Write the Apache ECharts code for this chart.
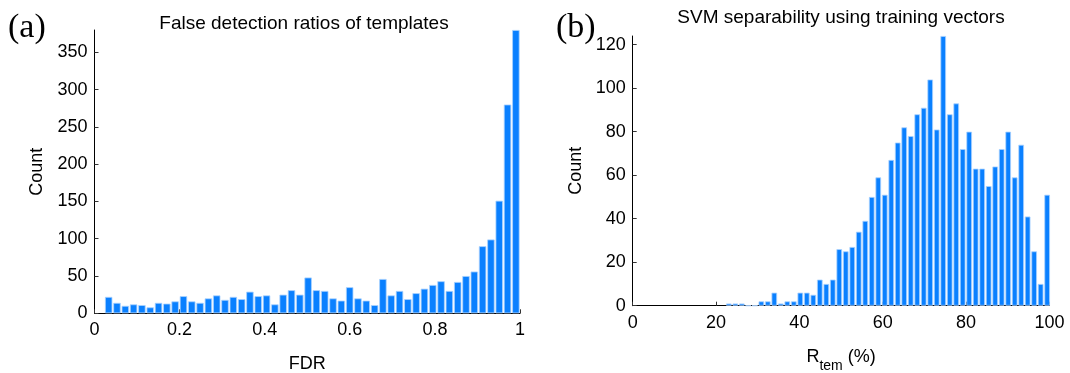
<!DOCTYPE html>
<html>
<head>
<meta charset="utf-8">
<script src="https://cdn.jsdelivr.net/npm/echarts@6/dist/echarts.min.js"></script>
<style>
html,body{margin:0;padding:0;background:#fff;}
#c{width:1070px;height:373px;}
</style>
</head>
<body>
<div id="c"></div>
<script>
// Panel (a): FDR histogram
const fdrBinCenters = [0.0333,0.0528,0.0724,0.0919,0.1114,0.1310,0.1505,0.1700,0.1895,0.2091,
  0.2286,0.2481,0.2677,0.2872,0.3067,0.3263,0.3458,0.3653,0.3848,0.4044,
  0.4239,0.4434,0.4630,0.4825,0.5020,0.5215,0.5411,0.5606,0.5801,0.5997,
  0.6192,0.6387,0.6583,0.6778,0.6973,0.7169,0.7364,0.7559,0.7754,0.7950,
  0.8145,0.8340,0.8536,0.8731,0.8926,0.9121,0.9317,0.9512,0.9707,0.9903];
const fdrCounts = [22,14,10,12,11,8,14,13,16,23,
  16,14,20,24,18,22,19,29,23,24,
  12,25,31,25,48,31,30,20,17,35,
  20,17,11,46,24,30,19,27,33,38,
  43,30,42,50,56,90,99,151,280,380];
const fdrTicks = [0,0.2,0.4,0.6,0.8,1];
const fdrCountTicks = [0,50,100,150,200,250,300,350];

// Panel (b): R_tem histogram
const rtemBinCenters = [23.07,24.63,26.19,27.75,29.31,30.87,32.42,33.98,35.54,37.10,
  38.66,40.22,41.78,43.34,44.90,46.46,48.01,49.57,51.13,52.69,
  54.25,55.81,57.37,58.93,60.49,62.05,63.60,65.16,66.72,68.28,
  69.84,71.40,72.96,74.52,76.08,77.64,79.19,80.75,82.31,83.87,
  85.43,86.99,88.55,90.11,91.67,93.23,94.78,96.34,97.90,99.46];
const rtemCounts = [1,1,1,0,0,2,2,6,1,2,
  2,6,6,5,12,10,12,26,25,27,
  34,39,50,59,51,67,75,82,78,88,
  91,104,81,124,88,93,72,80,63,63,
  55,64,72,80,59,74,41,25,10,51];
const rtemTicks = [0,20,40,60,80,100];
const rtemCountTicks = [0,20,40,60,80,100,120];

const titles = ['False detection ratios of templates','SVM separability using training vectors'];
const panelLabels = ['(a)','(b)'];

const FONT = '"Liberation Sans", Arial, Helvetica, sans-serif';
const BAR = '#0a80ff';
const FS = 18;

function xAxisCfg(gi, min, max, interval, ticks, name, nameGap, rich) {
  return {
    type:'value', gridIndex: gi, min, max, interval,
    name, nameLocation:'middle', nameGap,
    nameTextStyle: Object.assign({color:'#000', fontFamily:FONT, fontSize:FS}, rich ? {rich} : {}),
    axisLine:{show:true, onZero:false, lineStyle:{color:'#000', width:1}},
    axisTick:{show:true, inside:true, length:4, customValues: ticks, lineStyle:{color:'#333'}},
    axisLabel:{color:'#000', fontFamily:FONT, fontSize:FS, margin:8, customValues: ticks},
    splitLine:{show:false}
  };
}
function yAxisCfg(gi, max, interval, ticks) {
  return {
    type:'value', gridIndex: gi, min:0, max, interval,
    name:'Count', nameLocation:'middle', nameGap:48,
    nameTextStyle:{color:'#000', fontFamily:FONT, fontSize:FS},
    axisLine:{show:true, lineStyle:{color:'#000', width:1}},
    axisTick:{show:true, inside:true, length:4, customValues: ticks, lineStyle:{color:'#333'}},
    axisLabel:{color:'#000', fontFamily:FONT, fontSize:FS, margin:7, customValues: ticks},
    splitLine:{show:false}
  };
}

const chart = echarts.init(document.getElementById('c'), null, {renderer:'canvas'});
chart.setOption({
  animation:false,
  backgroundColor:'#fff',
  title:[
    {text:titles[0], left:299, textAlign:'center', top:9, textStyle:{fontFamily:FONT, fontSize:19, fontWeight:'normal', color:'#000'}},
    {text:titles[1], left:836, textAlign:'center', top:3, textStyle:{fontFamily:FONT, fontSize:19, fontWeight:'normal', color:'#000'}}
  ],
  graphic:[
    {type:'text', left:8, top:11, style:{text:panelLabels[0], font:'34px "Liberation Serif", "DejaVu Serif", serif', fill:'#000'}},
    {type:'text', left:556, top:11, style:{text:panelLabels[1], font:'34px "Liberation Serif", "DejaVu Serif", serif', fill:'#000'}}
  ],
  grid:[
    {left:94.5, right:550, top:30, bottom:59.7, containLabel:false, outerBoundsMode:'none'},
    {left:632.7, right:20.6, top:36, bottom:67.3, containLabel:false, outerBoundsMode:'none'}
  ],
  xAxis:[
    xAxisCfg(0, 0, 1, 0.2, fdrTicks, 'FDR', 42),
    xAxisCfg(1, 0, 100, 20, rtemTicks, '{a|R}{s|tem}{a| (%)}', 42, {
      a:{fontFamily:FONT, fontSize:FS, color:'#000', verticalAlign:'top'},
      s:{fontFamily:FONT, fontSize:14, color:'#000', verticalAlign:'top', padding:[11,0,0,0]}
    })
  ],
  yAxis:[
    yAxisCfg(0, 380, 50, fdrCountTicks),
    yAxisCfg(1, 124, 20, rtemCountTicks)
  ],
  series:[
    {type:'bar', xAxisIndex:0, yAxisIndex:0, barWidth:7.4,
     itemStyle:{color:BAR, borderColor:'#a9d2ff', borderWidth:0.8},
     data: fdrBinCenters.map((c,i)=>[c, fdrCounts[i]])},
    {type:'bar', xAxisIndex:1, yAxisIndex:1, barWidth:5.6,
     itemStyle:{color:BAR, borderColor:'#a9d2ff', borderWidth:0.8},
     data: rtemBinCenters.map((c,i)=>[c, rtemCounts[i]])}
  ]
});
</script>
</body>
</html>
